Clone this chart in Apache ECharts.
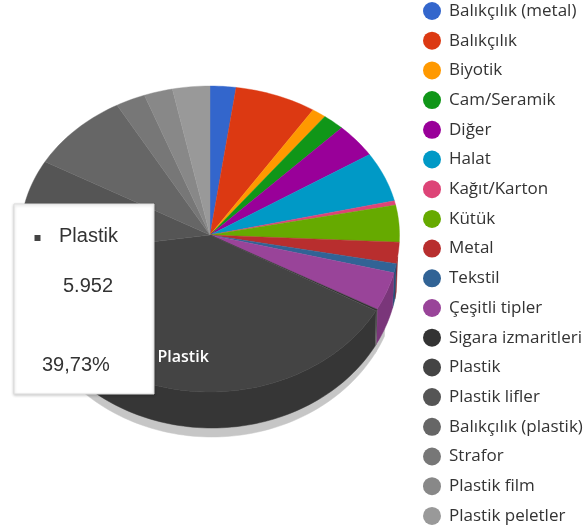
<!DOCTYPE html>
<html><head><meta charset="utf-8">
<style>html,body{margin:0;padding:0;background:#fff}#c{width:584px;height:530px;filter:blur(0.4px)}</style>
<script src="https://cdn.jsdelivr.net/npm/echarts@6/dist/echarts.min.js"></script>
</head><body><div id="c"></div>
<script>
const categories = ['Balıkçılık (metal)','Balıkçılık','Biyotik','Cam/Seramik','Diğer','Halat','Kağıt/Karton','Kütük','Metal','Tekstil','Çeşitli tipler','Sigara izmaritleri','Plastik','Plastik lifler','Balıkçılık (plastik)','Strafor','Plastik film','Plastik peletler'];
const values = [330,1040,183,279,553,807,71,591,330,142,594,25,5952,1565,1298,379,366,477];
const colors = ['#3366cc','#dc3912','#ff9900','#109618','#990099','#0099c6','#dd4477','#66aa00','#b82e2e','#316395','#994499','#333333','#444444','#555555','#666666','#777777','#888888','#999999'];
const tipName = 'Plastik', tipValue = '5.952', tipShare = '39,73%';

const CX = 210, CY = 235, RX = 189.5, RT = 149, RB = 157;
const total = values.reduce((a, b) => a + b, 0);
const rad = d => d * Math.PI / 180;
const pt = (t, f = 1) => {
  const c = Math.cos(rad(t));
  return [CX + f * RX * Math.sin(rad(t)), CY - f * (c > 0 ? RT : RB) * c];
};
const lowEdge = (t, cy, ry) => [212 + 186 * Math.sin(rad(t)), cy - ry * Math.cos(rad(t))];
function samples(a, b) {
  const out = [];
  const n = Math.max(2, Math.ceil((b - a) / 1.5));
  for (let i = 0; i <= n; i++) out.push(a + (b - a) * i / n);
  return out;
}
function darken(hex, k) {
  const n = parseInt(hex.slice(1), 16);
  const f = s => Math.round(((n >> s) & 255) * k);
  return `rgb(${f(16)},${f(8)},${f(0)})`;
}
function wall(a, b, lo, hi, cy, ry, fill) {
  const s = Math.max(a, lo), e = Math.min(b, hi);
  if (e <= s) return null;
  const ts = samples(s, e);
  const pts = ts.map(t => pt(t)).concat(ts.slice().reverse().map(t => lowEdge(t, cy, ry)));
  return { type: 'polygon', shape: { points: pts }, style: { fill, stroke: fill, lineWidth: 0.5 }, silent: true };
}
let acc = 0;
const series = categories.map((name, i) => {
  const a = acc / total * 360;
  acc += values[i];
  const b = acc / total * 360;
  return {
    name, type: 'custom', coordinateSystem: 'none', animation: false,
    itemStyle: { color: colors[i] },
    data: [values[i]],
    renderItem() {
      const kids = [];
      const sh = wall(a, b, 112, 262, 276, 161, '#c6c6c6');
      if (sh) kids.push(sh);
      const w = wall(a, b, 98, 270, 270, 158, darken(colors[i], 0.8));
      if (w) kids.push(w);
      kids.push({
        type: 'polygon',
        shape: { points: [[CX, CY]].concat(samples(a, b).map(t => pt(t))) },
        style: { fill: colors[i], stroke: colors[i], lineWidth: 0.4 }
      });
      if (name === tipName) {
        const p = pt((a + b) / 2, 0.79);
        kids.push({
          type: 'text', x: p[0], y: p[1],
          style: { text: name, fill: '#fff', font: '600 16px "Open Sans"', textAlign: 'center', textVerticalAlign: 'middle' }
        });
      }
      return { type: 'group', children: kids };
    }
  };
});
const tipFont = '20px "Liberation Sans"';
const chart = echarts.init(document.getElementById('c'), null, { renderer: 'canvas' });
chart.setOption({
  backgroundColor: '#fff',
  animation: false,
  legend: {
    data: categories, orient: 'vertical', left: 423, top: 2, padding: 0,
    itemWidth: 18, itemHeight: 18, itemGap: 11.7, icon: 'circle', selectedMode: false,
    textStyle: { color: '#333', fontSize: 17, fontFamily: 'Open Sans', padding: [0, 0, 0, 3] }
  },
  series,
  graphic: [
    { type: 'rect', z: 100, shape: { x: 14, y: 204, width: 140, height: 190 },
      style: { fill: '#fff', stroke: '#ddd', lineWidth: 1, shadowBlur: 3, shadowColor: 'rgba(0,0,0,0.2)', shadowOffsetX: 0, shadowOffsetY: 1 } },
    { type: 'rect', z: 101, shape: { x: 34.5, y: 235, width: 6, height: 6 }, style: { fill: colors[categories.indexOf(tipName)] } },
    { type: 'text', z: 101, x: 59, y: 236, style: { text: tipName, font: tipFont, fill: '#333', textVerticalAlign: 'middle' } },
    { type: 'text', z: 101, x: 63, y: 286, style: { text: tipValue, font: tipFont, fill: '#333', textVerticalAlign: 'middle' } },
    { type: 'text', z: 101, x: 42, y: 365, style: { text: tipShare, font: tipFont, fill: '#333', textVerticalAlign: 'middle' } }
  ]
});
</script></body></html>
